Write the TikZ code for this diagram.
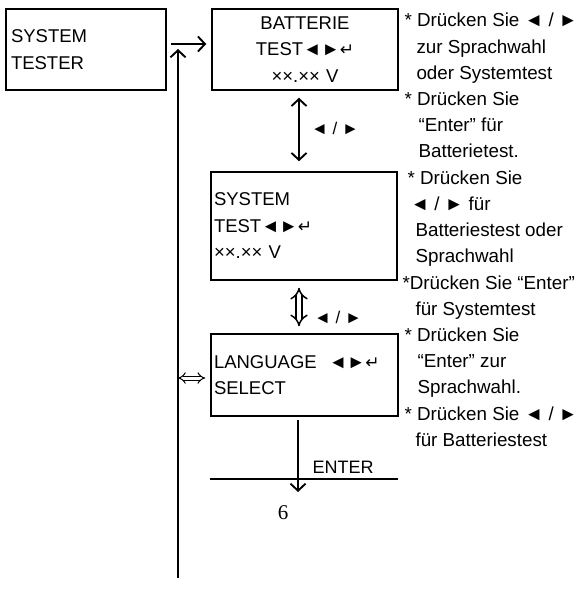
\documentclass[tikz,border=0pt]{standalone}
\usepackage{fontspec}
\setmainfont{Liberation Sans}
\newfontfamily\symbolfont{DejaVu Sans}
\newfontfamily\pagenumfont{Liberation Serif}
\usetikzlibrary{arrows.meta}

\newcommand{\arrowpair}{◄►}
\newcommand{\enterkey}{{\symbolfont\fontsize{17}{17}\selectfont↵}}
\newcommand{\lrkeys}{◄ / ►}

\begin{document}
\begin{tikzpicture}[x=1pt,y=-1pt,
  screen/.style={draw, line width=1.5pt, inner xsep=3pt, inner ysep=0pt,
    align=left, font=\fontsize{18.5}{26.5}\selectfont},
  flow/.style={line width=1.9pt, -{Straight Barb[length=7pt,width=15pt]}},
  bothways/.style={line width=1.9pt,
    {Straight Barb[length=7pt,width=15pt]}-{Straight Barb[length=7pt,width=15pt]}},
  dbl/.style={double, double distance=4.5pt, line width=1.5pt,
    {Implies[scale=2.3]}-{Implies[scale=2.3]}},
  hint/.style={anchor=base west, font=\fontsize{18.8}{18.8}\selectfont}]
  \useasboundingbox (0,0) rectangle (581,593);

  \node[screen, minimum width=160pt, minimum height=81pt, text width=150pt, inner xsep=5pt]
    (tester) at (86,49.5) {SYSTEM\\TESTER};
  \node[screen, align=center, minimum width=186pt, minimum height=81pt, text width=180pt]
    (battery) at (305,49.5) {BATTERIE\\TEST\arrowpair\enterkey\\××.×× V};
  \node[screen, minimum width=186pt, minimum height=108pt, text width=180pt]
    (system) at (304,226) {SYSTEM\\TEST\arrowpair\enterkey\\××.×× V};
  \node[screen, minimum width=187pt, minimum height=82pt, text width=181pt]
    (language) at (304.5,375) {LANGUAGE\hspace{12pt}\arrowpair\enterkey\\SELECT};

  \coordinate (loopend) at (178,578);
  \coordinate (looptop) at (178,49);
  \coordinate (exit) at (298,492);

  \draw[flow] ([xshift=4pt,yshift=5.5pt]tester.east) -- ([xshift=-5pt,yshift=5.5pt]battery.west);
  \draw[flow] (loopend) -- (looptop);
  \draw[bothways] ([xshift=-6pt,yshift=-7pt]battery.south) -- ([xshift=-5pt,yshift=10pt]system.north);
  \draw[dbl] ([xshift=-5pt,yshift=-7pt]system.south) -- ([xshift=-5.5pt,yshift=7pt]language.north);
  \draw[dbl, line width=1pt, double distance=3pt,
    {Implies[scale=1.5]}-{Implies[scale=1.5]}]
    ([yshift=-3pt]language.west -| loopend) -- ([xshift=-5pt,yshift=-3pt]language.west);
  \draw[flow] ([xshift=-6.5pt,yshift=-3pt]language.south) -- (exit);
  \draw[line width=1.5pt] (210,479) -- (398,479);

  \node[font=\fontsize{17}{17}\selectfont] (keysone) at (335,128) {\lrkeys};
  \node[font=\fontsize{17}{17}\selectfont] (keystwo) at (338,317) {\lrkeys};
  \node[font=\fontsize{18}{18}\selectfont] (enterlabel) at (343,467) {ENTER};
  \node[font=\pagenumfont\fontsize{21}{21}\selectfont] (pagenum) at (283,513) {6};

  \foreach \i/\xpos/\txt in {
    1/401/{* Drücken Sie \lrkeys},
    2/413/{zur Sprachwahl},
    3/413/{oder Systemtest},
    4/401/{* Drücken Sie},
    5/415/{“Enter” für},
    6/415/{Batterietest.},
    7/404/{* Drücken Sie},
    8/407/{\lrkeys\ für},
    9/412/{Batteriestest oder},
    10/412/{Sprachwahl},
    11/399/{*Drücken Sie “Enter”},
    12/412/{für Systemtest},
    13/401/{* Drücken Sie},
    14/414/{“Enter” zur},
    15/414/{Sprachwahl.},
    16/401/{* Drücken Sie \lrkeys},
    17/412/{für Batteriestest}
  }{
    \node[hint] (hint\i) at (\xpos,{20+(\i-1)*26.2+7}) {\txt};
  }
\end{tikzpicture}
\end{document}
